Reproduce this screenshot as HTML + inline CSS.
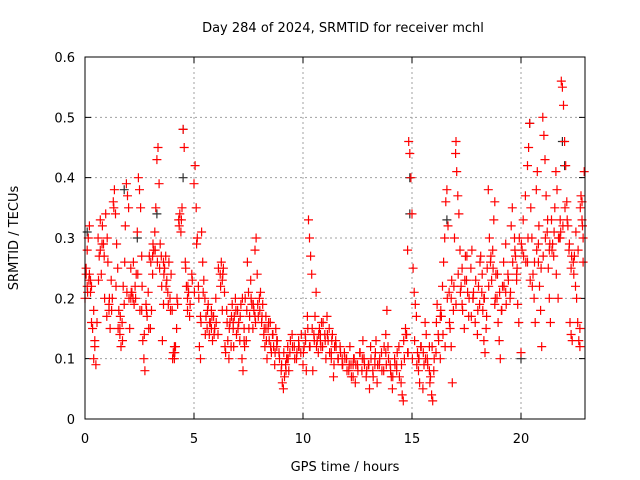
<!DOCTYPE html>
<html><head><meta charset="utf-8"><style>
html,body{margin:0;padding:0;background:#fff;}
svg{display:block;font-family:"DejaVu Sans","Liberation Sans",sans-serif;}
</style></head><body>
<svg id="chart" width="640" height="480" viewBox="0 0 640 480">
<rect width="640" height="480" fill="#fff"/>
<text x="343" y="32" font-size="13" text-anchor="middle" fill="#000">Day 284 of 2024, SRMTID for receiver mchl</text>
<text x="0" y="0" font-size="13" text-anchor="middle" transform="translate(18,238) rotate(-90)">SRMTID / TECUs</text>
<text x="345" y="471" font-size="13" text-anchor="middle">GPS time / hours</text>
<g id="grid"></g>
<g id="ticks"></g>
<g id="points"></g>
<rect x="85" y="57" width="500" height="362" fill="none" stroke="#000" stroke-width="1"/>
</svg>
<script>
const xTicks=[0,5,10,15,20];
const yTicks=[0,0.1,0.2,0.3,0.4,0.5,0.6];
const yTickLabels=["0","0.1","0.2","0.3","0.4","0.5","0.6"];
const redTimes=[0,0.05,0.1,0.15,0.2,0.1,0.2,0.25,0.3,0.35,0.4,0.45,0.5,0.45,0.4,
0.6,0.65,0.7,0.75,0.8,0.85,0.9,0.95,1.0,1.05,1.1,1.15,1.2,1.25,1.3,1.35,1.4,1.45,1.5,1.55,1.6,1.65,1.7,1.75,1.8,1.85,1.9,1.95,2.0,2.05,2.1,2.15,2.2,2.25,2.3,2.35,2.4,2.45,2.5,2.55,2.6,2.65,2.7,2.75,2.8,2.85,2.9,2.95,3.0,3.05,3.1,3.15,3.2,3.25,3.3,3.35,3.4,3.45,3.5,3.55,3.6,3.65,3.7,3.75,3.8,3.85,3.9,3.95,4.0,4.05,4.1,4.15,4.2,4.25,4.3,4.35,4.4,4.45,4.5,4.55,4.6,4.65,4.7,4.75,4.8,4.9,5.0,5.05,5.1,5.15,5.2,5.25,5.3,5.35,5.4,5.45,
5.5,5.55,5.6,5.65,5.7,5.75,5.8,5.85,5.9,5.95,6.0,6.1,6.2,6.25,6.3,6.35,6.4,6.45,6.5,6.55,6.6,6.65,6.7,6.75,6.8,6.85,6.9,6.95,7.0,7.05,7.1,7.15,7.2,7.25,7.3,7.35,7.4,7.45,7.5,7.55,7.6,7.65,7.7,7.75,7.8,7.85,7.9,7.95,8.0,8.05,8.1,8.15,8.2,8.25,8.3,8.35,8.4,8.45,8.5,8.55,8.6,8.65,8.7,8.75,8.8,8.9,9.0,9.05,9.1,9.15,9.2,9.25,9.3,9.35,9.4,9.5,9.6,9.7,9.8,9.9,10.0,10.05,10.1,10.15,10.2,10.25,10.3,10.35,10.4,10.45,10.5,10.55,10.6,10.65,10.7,10.75,10.8,10.85,10.9,11.0,11.05,11.1,11.15,11.2,11.3,11.35,11.4,11.45,11.5,11.6,11.7,11.8,11.9,12.0,12.1,12.15,12.2,12.3,12.35,12.4,12.5,12.6,12.7,12.75,12.8,12.9,13.0,13.05,13.1,13.2,13.3,13.35,13.4,13.5,13.6,13.7,13.8,13.85,13.9,14.0,14.05,14.1,14.2,14.3,14.4,14.5,14.55,14.6,14.65,14.7,14.75,14.8,14.85,14.9,14.95,15.0,15.05,15.1,15.15,15.2,15.25,15.3,15.35,15.4,15.5,15.55,15.6,15.65,15.7,15.8,15.85,15.9,15.95,16.0,16.1,16.15,16.2,16.3,16.35,16.4,
16.45,16.5,16.55,16.6,16.65,16.7,16.75,16.8,16.85,16.9,16.95,17.0,17.02,17.05,17.1,17.15,17.2,17.25,17.3,17.4,17.45,17.5,17.55,17.6,17.7,17.75,17.8,17.9,18.0,18.05,18.1,18.15,18.2,18.25,18.3,18.35,18.4,18.45,18.5,18.55,18.6,18.65,18.7,18.75,18.8,18.85,18.9,18.95,19.0,19.05,19.1,19.15,19.2,19.3,19.4,19.5,19.55,19.6,19.7,19.75,19.8,19.85,19.9,20.0,20.05,20.1,20.2,20.3,20.35,20.4,20.45,20.5,20.55,20.6,20.65,20.7,20.75,20.8,20.85,20.9,20.95,21.0,21.05,21.1,21.15,21.2,21.25,21.3,21.35,21.4,21.45,21.5,21.55,21.6,21.65,21.7,21.75,21.8,21.82,21.85,21.9,21.95,22.0,22.05,22.1,22.15,22.2,22.25,22.3,22.35,22.4,22.45,22.5,22.55,22.6,22.65,22.7,22.75,22.8,22.85,22.9,22.85,22.8];
const redValues=[0.2,0.25,0.22,0.3,0.32,0.28,0.24,0.21,0.16,0.15,0.1,0.12,0.09,0.13,0.18,
0.3,0.27,0.33,0.24,0.32,0.29,0.2,0.34,0.17,0.26,0.19,0.15,0.23,0.2,0.36,0.38,0.34,0.29,0.25,0.18,0.14,0.12,0.16,0.22,0.19,0.32,0.39,0.37,0.35,0.15,0.25,0.21,0.2,0.19,0.22,0.24,0.31,0.4,0.38,0.35,0.27,0.13,0.1,0.08,0.19,0.17,0.21,0.27,0.15,0.18,0.24,0.28,0.31,0.35,0.43,0.45,0.39,0.29,0.27,0.13,0.19,0.25,0.27,0.23,0.21,0.26,0.2,0.24,0.18,0.11,0.1,0.12,0.15,0.19,0.33,0.34,0.31,0.35,0.48,0.45,0.26,0.22,0.18,0.21,0.17,0.24,0.39,0.42,0.35,0.3,0.22,0.12,0.1,0.31,0.26,0.23,
0.2,0.17,0.15,0.19,0.14,0.16,0.18,0.13,0.17,0.15,0.2,0.14,0.24,0.26,0.23,0.25,0.21,0.11,0.18,0.13,0.1,0.16,0.12,0.19,0.15,0.17,0.2,0.14,0.18,0.16,0.13,0.19,0.1,0.08,0.15,0.2,0.13,0.26,0.21,0.17,0.23,0.19,0.15,0.18,0.28,0.3,0.24,0.17,0.2,0.21,0.16,0.19,0.14,0.12,0.17,0.1,0.15,0.13,0.16,0.11,0.14,0.12,0.09,0.15,0.13,0.11,0.08,0.06,0.05,0.07,0.09,0.1,0.12,0.08,0.11,0.14,0.12,0.1,0.13,0.11,0.09,0.12,0.14,0.08,0.17,0.33,0.3,0.27,0.24,0.08,0.14,0.17,0.21,0.13,0.11,0.15,0.13,0.16,0.12,0.14,0.1,0.17,0.13,0.15,0.11,0.14,0.07,0.12,0.13,0.1,0.12,0.09,0.11,0.1,0.08,0.12,0.09,0.07,0.1,0.06,0.09,0.11,0.08,0.13,0.1,0.07,0.09,0.05,0.12,0.08,0.1,0.13,0.06,0.09,0.11,0.08,0.14,0.18,0.12,0.09,0.07,0.05,0.1,0.08,0.12,0.06,0.04,0.03,0.1,0.15,0.14,0.28,0.46,0.44,0.4,0.34,0.25,0.21,0.19,0.17,0.11,0.08,0.06,0.12,0.05,0.09,0.16,0.14,0.1,0.12,0.07,0.04,0.03,0.08,0.11,0.19,0.14,0.1,0.17,0.22,
0.26,0.3,0.36,0.38,0.32,0.21,0.15,0.12,0.06,0.18,0.3,0.44,0.46,0.41,0.37,0.34,0.28,0.22,0.19,0.15,0.27,0.23,0.21,0.17,0.25,0.28,0.2,0.16,0.14,0.22,0.19,0.27,0.21,0.18,0.13,0.11,0.15,0.25,0.38,0.3,0.26,0.23,0.28,0.33,0.36,0.24,0.2,0.16,0.13,0.1,0.18,0.22,0.26,0.29,0.24,0.2,0.32,0.35,0.3,0.27,0.23,0.19,0.16,0.11,0.28,0.33,0.37,0.42,0.45,0.49,0.35,0.3,0.24,0.2,0.16,0.38,0.41,0.29,0.22,0.18,0.12,0.5,0.47,0.43,0.37,0.31,0.25,0.2,0.16,0.33,0.29,0.27,0.35,0.41,0.38,0.2,0.3,0.33,0.31,0.56,0.55,0.52,0.46,0.42,0.36,0.32,0.28,0.16,0.14,0.13,0.26,0.27,0.22,0.2,0.16,0.13,0.12,0.37,0.33,0.3,0.41,0.26,0.36,0.39,0.3];
const redTimes2=[0.05,0.12,0.18,0.3,0.55,0.62,0.78,0.88,1.02,1.12,1.22,1.32,1.42,1.52,1.62,1.72,1.82,1.92,2.02,2.12,2.22,2.32,2.42,2.52,2.62,2.72,2.82,2.92,3.02,3.12,3.22,3.32,3.42,3.52,3.62,3.72,3.82,3.92,4.02,4.12,4.22,4.32,4.42,4.62,4.72,4.82,4.92,5.02,5.12,5.22,5.32,5.42,5.52,5.62,5.72,5.82,5.92,6.02,6.12,6.22,6.32,6.42,6.52,6.62,6.72,6.82,6.92,7.02,7.12,7.22,7.32,7.42,7.52,7.62,7.72,7.82,7.92,8.02,8.12,8.22,8.32,8.42,8.52,8.62,8.72,8.82,8.92,9.02,9.12,9.22,9.32,9.42,9.52,9.62,9.72,9.82,9.92,10.02,10.12,10.22,10.32,10.42,10.52,10.62,10.72,10.82,10.92,11.02,11.12,11.22,11.32,11.42,11.52,11.62,11.72,11.82,11.92,12.02,12.12,12.22,12.32,12.42,12.52,12.62,12.72,12.82,12.92,13.02,13.12,13.22,13.32,13.42,13.52,13.62,13.72,13.82,13.92,14.02,14.12,14.22,14.32,14.42,14.52,14.62,14.72,14.82,15.02,15.12,15.22,15.32,15.42,15.52,15.62,15.72,15.82,15.92,16.02,16.12,16.22,16.32,16.42,16.52,16.62,16.72,16.82,16.92,17.02,17.12,17.22,17.32,17.42,17.52,17.62,17.72,17.82,17.92,18.02,18.12,18.22,18.32,18.42,18.52,18.62,18.72,18.82,18.92,19.02,19.12,19.22,19.32,19.42,19.52,19.62,19.72,19.82,19.92,20.02,20.12,20.22,20.32,20.42,20.52,20.62,20.72,20.82,20.92,21.02,21.12,21.22,21.32,21.42,21.52,21.62,21.72,21.92,22.02,22.12,22.22,22.32,22.42,22.52,22.62,22.72,22.82,
0.25,0.7,1.1,1.6,2.1,2.6,3.1,3.6,4.1,4.7,5.3,5.8,6.3,6.8,7.3,7.8,8.3,8.8,9.3,9.8,10.3,10.8,11.3,11.8,12.3,12.8,13.3,13.8,14.3,14.8,15.3,15.8,16.3,16.8,17.3,17.8,18.3,18.8,19.3,19.8,20.3,20.8,21.3,21.8,22.3,22.7];
const redValues2=[0.24,0.21,0.23,0.22,0.16,0.23,0.29,0.27,0.3,0.2,0.18,0.35,0.22,0.15,0.17,0.13,0.26,0.21,0.2,0.21,0.26,0.2,0.24,0.18,0.22,0.14,0.18,0.15,0.26,0.29,0.28,0.26,0.25,0.22,0.24,0.22,0.19,0.18,0.1,0.11,0.2,0.32,0.33,0.25,0.22,0.19,0.23,0.21,0.29,0.2,0.16,0.21,0.14,0.18,0.16,0.17,0.14,0.16,0.25,0.22,0.24,0.12,0.16,0.15,0.17,0.12,0.18,0.15,0.17,0.2,0.12,0.18,0.15,0.2,0.19,0.16,0.19,0.18,0.17,0.15,0.13,0.16,0.12,0.14,0.11,0.13,0.1,0.09,0.11,0.08,0.1,0.13,0.12,0.1,0.11,0.12,0.14,0.11,0.13,0.15,0.12,0.15,0.13,0.12,0.14,0.12,0.16,0.13,0.14,0.11,0.13,0.09,0.12,0.1,0.11,0.09,0.1,0.08,0.09,0.07,0.1,0.09,0.08,0.11,0.1,0.09,0.08,0.09,0.1,0.07,0.11,0.09,0.1,0.08,0.12,0.09,0.1,0.08,0.07,0.09,0.11,0.07,0.09,0.13,0.14,0.11,0.1,0.13,0.09,0.1,0.12,0.11,0.1,0.09,0.06,0.12,0.1,0.16,0.13,0.18,0.14,0.12,0.2,0.16,0.23,0.22,0.19,0.24,0.21,0.18,0.23,0.27,0.2,0.17,0.21,0.23,0.18,0.26,0.24,0.2,0.17,0.22,0.27,0.25,0.2,0.24,0.21,0.18,0.22,0.19,0.23,0.21,0.26,0.28,0.25,0.3,0.29,0.27,0.26,0.3,0.23,0.22,0.26,0.28,0.32,0.25,0.27,0.3,0.33,0.29,0.28,0.31,0.24,0.3,0.32,0.35,0.33,0.29,0.27,0.24,0.31,0.28,0.35,0.32,
0.23,0.28,0.18,0.15,0.2,0.18,0.27,0.26,0.12,0.2,0.17,0.15,0.18,0.16,0.13,0.17,0.15,0.12,0.1,0.12,0.12,0.14,0.1,0.1,0.09,0.1,0.09,0.11,0.09,0.11,0.1,0.08,0.17,0.2,0.25,0.2,0.2,0.19,0.21,0.24,0.26,0.26,0.28,0.3,0.25,0.15];
const blackTimes=[0.1,1.8,2.4,3.3,4.5,4.5,14.9,14.9,16.6,20.0,20.4,21.9,22.0];
const blackValues=[0.31,0.38,0.3,0.34,0.48,0.4,0.4,0.34,0.33,0.1,0.49,0.46,0.42];
const X0=85,X1=585,XMAX=500/21.8,Y0=419,Y1=57,YMAX=0.6;
function xs(t){return X0+t/XMAX*(X1-X0);}
function ys(v){return Y0-v/YMAX*(Y0-Y1);}
const NS="http://www.w3.org/2000/svg";
const grid=document.getElementById('grid'),ticks=document.getElementById('ticks'),pts=document.getElementById('points');
function mk(tag,attrs,parent){const e=document.createElementNS(NS,tag);for(const k in attrs)e.setAttribute(k,attrs[k]);parent.appendChild(e);return e;}
yTicks.forEach((v,i)=>{
  const y=ys(v);
  if(v>0&&v<YMAX){const g=mk('line',{x1:X0,x2:X1,y1:y,y2:y,stroke:'#a0a0a0','stroke-dasharray':'2,3'},grid);
  
  }
  const t=mk('path',{d:`M${X0},${y}h6M${X1},${y}h-6`,stroke:'#000'},ticks);
  
  
  const l=mk('text',{x:X0-10,y:y+5,'font-size':13,'text-anchor':'end'},ticks);l.textContent=yTickLabels[i];
  
  
});
xTicks.forEach(v=>{
  const x=xs(v);
  if(v>0){const g=mk('line',{x1:x,x2:x,y1:Y0,y2:Y1,stroke:'#a0a0a0','stroke-dasharray':'2,3'},grid);
  
  }
  const t=mk('path',{d:`M${x},${Y0}v-6M${x},${Y1}v6`,stroke:'#000'},ticks);
  
  
  const l=mk('text',{x:x,y:Y0+24,'font-size':13,'text-anchor':'middle'},ticks);l.textContent=String(v);
  
  
});
function plus(ts,vs,color,name){
  let d='';
  for(let i=0;i<ts.length;i++){const x=xs(ts[i]),y=ys(vs[i]);d+=`M${(x-4.5).toFixed(1)},${y.toFixed(1)}h9M${x.toFixed(1)},${(y-4.5).toFixed(1)}v9`;}
  const p=mk('path',{d:d,stroke:color,'stroke-width':1.2,fill:'none'},pts);
  
  
}
plus(blackTimes,blackValues,'#303030','series-black-points');
plus(redTimes,redValues,'#ff0000','series-red-points');
plus(redTimes2,redValues2,'#ff0000','series-red-points-2');
</script>
</body></html>
